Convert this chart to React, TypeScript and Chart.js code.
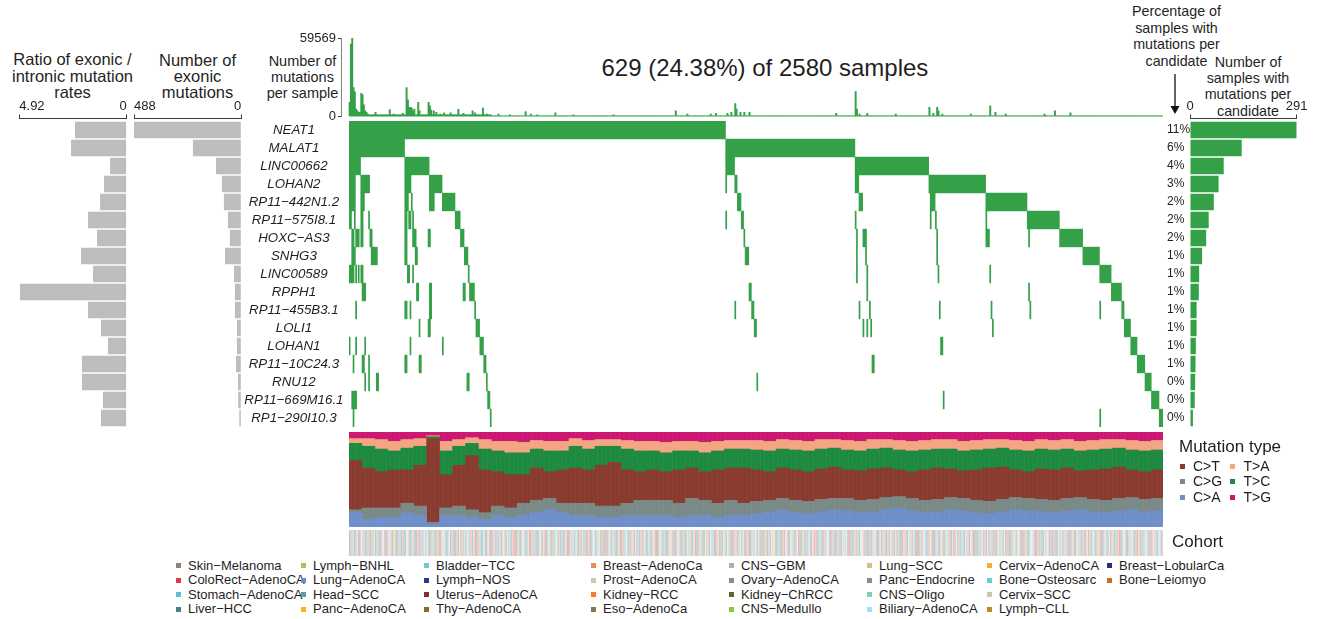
import React, { useEffect, useRef } from 'react';
import { Chart, registerables } from 'chart.js';

Chart.register(...registerables);

const FONT = '"Liberation Sans", Arial, Helvetica, sans-serif';
const TEXT = '#1f1f1f';
const GREEN = '#34a047';
const GREY = '#bdbdbd';
const AXIS = '#3a3a3a';

// ---------------- data ----------------
const sampleCount = 629;
const totalSamples = 2580;

const genes = ['NEAT1', 'MALAT1', 'LINC00662', 'LOHAN2', 'RP11\u2212442N1.2', 'RP11\u2212575I8.1', 'HOXC\u2212AS3', 'SNHG3', 'LINC00589', 'RPPH1', 'RP11\u2212455B3.1', 'LOLI1', 'LOHAN1', 'RP11\u221210C24.3', 'RNU12', 'RP11\u2212669M16.1', 'RP1\u2212290I10.3'];
const exonIntronRatio = [2.37, 2.55, 0.76, 1.04, 1.22, 1.77, 1.36, 2.09, 1.54, 4.89, 1.77, 1.18, 0.86, 2.05, 2.05, 1.09, 1.18];
const ratioAxisMax = 4.92;
const exonicMutations = [488, 220, 115, 88, 79, 61, 52, 74, 33, 29, 29, 20, 20, 24, 15, 14, 9];
const exonicAxisMax = 488;
const samplesMutated = [291, 141, 92, 78, 65, 51, 44, 33, 25, 24, 18, 18, 16, 15, 14, 13, 8];
const samplesAxisMax = 291;
const percentLabels = ['11%', '6%', '4%', '3%', '2%', '2%', '2%', '1%', '1%', '1%', '1%', '1%', '1%', '1%', '0%', '0%', '0%'];

// mutated sample runs per gene, [first, last] sample index (oncoprint order)
const neat1Runs = [[0, 290]];
const malat1Runs = [[0, 42], [291, 390]];
const linc00662Runs = [[0, 8], [43, 61], [291, 297], [391, 447]];
const lohan2Runs = [[0, 4], [9, 15], [43, 47], [62, 71], [291, 291], [298, 299], [391, 393], [448, 491]];
const rp442Runs = [[0, 4], [9, 11], [43, 45], [48, 48], [62, 65], [72, 81], [300, 302], [394, 396], [449, 452], [492, 523]];
const rp575Runs = [[0, 1], [4, 4], [9, 10], [15, 15], [43, 44], [46, 47], [49, 49], [82, 85], [291, 291], [303, 304], [391, 391], [449, 449], [453, 453], [492, 492], [524, 548]];
const hoxcRuns = [[2, 3], [5, 7], [9, 10], [16, 17], [43, 44], [49, 51], [61, 62], [86, 88], [305, 305], [392, 392], [397, 399], [454, 454], [492, 494], [525, 525], [549, 566]];
const snhg3Runs = [[2, 4], [17, 21], [43, 44], [51, 52], [89, 91], [306, 308], [392, 392], [399, 399], [454, 454], [567, 579]];
const linc00589Runs = [[0, 3], [5, 5], [7, 7], [9, 10], [45, 46], [49, 49], [92, 92], [392, 392], [400, 400], [455, 455], [495, 495], [580, 588]];
const rpph1Runs = [[10, 12], [52, 53], [62, 63], [88, 89], [93, 96], [309, 310], [400, 400], [525, 525], [589, 596]];
const rp455Runs = [[5, 5], [43, 44], [47, 47], [62, 63], [97, 97], [298, 298], [311, 312], [394, 394], [402, 402], [456, 456], [496, 496], [526, 526], [580, 580], [597, 598]];
const loli1Runs = [[54, 54], [61, 62], [98, 100], [313, 314], [397, 397], [400, 400], [403, 403], [497, 497], [599, 603]];
const lohan1Runs = [[0, 0], [5, 5], [12, 12], [47, 47], [72, 72], [101, 103], [457, 458], [604, 608]];
const rp10cRuns = [[3, 3], [10, 11], [15, 15], [43, 44], [54, 55], [104, 105], [404, 405], [609, 614]];
const rnu12Runs = [[12, 12], [15, 15], [21, 22], [91, 92], [106, 106], [315, 315], [615, 619]];
const rp669Runs = [[2, 5], [107, 108], [459, 459], [620, 625]];
const rp290Runs = [[3, 3], [109, 109], [580, 580], [626, 628]];
const mutatedRuns = [neat1Runs, malat1Runs, linc00662Runs, lohan2Runs, rp442Runs, rp575Runs, hoxcRuns, snhg3Runs, linc00589Runs, rpph1Runs, rp455Runs, loli1Runs, lohan1Runs, rp10cRuns, rnu12Runs, rp669Runs, rp290Runs];

// number of mutations per sample: notable bars [sample, count], others at the typical count of their range
const mutationCountMax = 59569;
const mutationCountPeaks = [[0, 10800], [1, 55000], [2, 59569], [3, 22100], [4, 18800], [5, 5800], [6, 4500], [7, 3300], [8, 3300], [9, 17600], [10, 16600], [11, 9000], [12, 4500], [13, 3300], [14, 2000], [20, 3300], [31, 5300], [34, 2000], [41, 2500], [44, 22100], [45, 12800], [46, 7000], [47, 7000], [48, 6500], [49, 4500], [50, 5800], [53, 10800], [54, 4500], [61, 10800], [62, 8300], [63, 5000], [65, 4500], [67, 3300], [70, 2000], [73, 3000], [78, 3000], [84, 5500], [88, 2500], [95, 4500], [97, 3000], [103, 6500], [106, 2000], [115, 2000], [124, 1500], [136, 3800], [140, 2000], [145, 1500], [159, 3000], [173, 1500], [204, 1500], [252, 4500], [261, 2000], [279, 2000], [283, 2500], [292, 2500], [295, 3300], [298, 10000], [299, 5800], [302, 3300], [305, 3300], [309, 3300], [376, 2500], [391, 19100], [392, 5800], [394, 2000], [400, 2500], [422, 2000], [448, 7000], [451, 2500], [454, 7000], [455, 4500], [458, 2000], [480, 2000], [495, 8300], [499, 3300], [507, 2000], [537, 2000], [545, 4500], [557, 3000]];
const typicalMutationCount = [[0, 109, 1500], [110, 628, 700]];

// mutation type composition, cumulative % tops per bin of 10 samples (C>A, +C>G, +C>T, +T>C, +T>A; T>G fills to 100)
const binSize = 10;
const caTop = [15, 8, 10, 10, 15, 12, 3, 12, 12, 10, 8, 12, 10, 12, 15, 18, 15, 12, 12, 10, 10, 12, 12, 12, 12, 10, 12, 12, 10, 12, 12, 14, 16, 18, 15, 14, 16, 18, 17, 15, 16, 18, 20, 17, 15, 16, 18, 17, 15, 14, 16, 18, 17, 16, 15, 17, 18, 16, 15, 17, 18, 16, 17];
const cgTop = [18, 20, 20, 20, 25, 22, 5, 20, 22, 18, 15, 22, 20, 25, 28, 30, 25, 25, 25, 22, 22, 25, 28, 28, 28, 25, 30, 28, 25, 28, 25, 27, 28, 30, 28, 27, 29, 30, 30, 28, 29, 31, 32, 30, 28, 29, 31, 30, 28, 27, 29, 31, 30, 29, 28, 30, 31, 29, 28, 30, 31, 29, 30];
const ctTop = [70, 62, 58, 60, 60, 65, 93, 55, 65, 75, 60, 58, 55, 55, 62, 58, 60, 62, 60, 65, 68, 60, 58, 60, 58, 60, 62, 58, 60, 62, 62, 60, 58, 62, 60, 58, 61, 63, 60, 59, 61, 62, 60, 58, 60, 62, 61, 59, 60, 62, 63, 60, 58, 61, 60, 62, 59, 60, 61, 63, 60, 58, 60];
const tcTop = [88, 85, 82, 80, 83, 85, 95, 80, 85, 88, 82, 80, 78, 78, 82, 80, 80, 85, 82, 85, 85, 82, 80, 80, 78, 80, 80, 78, 80, 82, 82, 81, 80, 82, 81, 80, 82, 83, 81, 80, 82, 83, 81, 80, 81, 82, 82, 80, 81, 82, 83, 81, 80, 82, 81, 82, 80, 81, 82, 83, 81, 80, 81];
const taTop = [93, 93, 92, 90, 92, 93, 96, 90, 92, 94, 92, 90, 90, 89, 91, 90, 90, 93, 91, 92, 92, 91, 90, 90, 89, 90, 90, 89, 90, 91, 91, 91, 90, 92, 91, 90, 92, 92, 91, 90, 92, 92, 91, 90, 91, 92, 92, 90, 91, 92, 92, 91, 90, 92, 91, 92, 90, 91, 92, 92, 91, 90, 91];
const mutTypes = ['C>A', 'C>G', 'C>T', 'T>C', 'T>A', 'T>G'];
const mutTypeColors = ['#6e8fca', '#7a8a87', '#8a3b2f', '#1e8a40', '#f4a582', '#cc1772'];
const mutLegendOrder = [2, 4, 1, 3, 0, 5];

// cohorts
const cohortNames = ['Skin\u2212Melanoma', 'ColoRect\u2212AdenoCA', 'Stomach\u2212AdenoCA', 'Liver\u2212HCC', 'Lymph\u2212BNHL', 'Lung\u2212AdenoCA', 'Head\u2212SCC', 'Panc\u2212AdenoCA', 'Bladder\u2212TCC', 'Lymph\u2212NOS', 'Uterus\u2212AdenoCA', 'Thy\u2212AdenoCA', 'Breast\u2212AdenoCa', 'Prost\u2212AdenoCA', 'Kidney\u2212RCC', 'Eso\u2212AdenoCa', 'CNS\u2212GBM', 'Ovary\u2212AdenoCA', 'Kidney\u2212ChRCC', 'CNS\u2212Medullo', 'Lung\u2212SCC', 'Panc\u2212Endocrine', 'CNS\u2212Oligo', 'Biliary\u2212AdenoCA', 'Cervix\u2212AdenoCA', 'Bone\u2212Osteosarc', 'Cervix\u2212SCC', 'Lymph\u2212CLL', 'Breast\u2212LobularCa', 'Bone\u2212Leiomyo'];
const cohortColors = ['#8c8279', '#e8383d', '#5bc0d0', '#4a7f86', '#c0b65a', '#6e8fcf', '#5b9e9a', '#f7b51c', '#6ccbd9', '#2a3a8f', '#8b2a2a', '#8a6a2a', '#f08a5d', '#d4c4b0', '#f08030', '#8b7355', '#b0b0b0', '#958b7a', '#556b2f', '#8dc63f', '#ddb88a', '#8a8a8a', '#7fcfb0', '#a8dcef', '#f0b030', '#6ccbd9', '#ccc8aa', '#b88a2a', '#2a2a80', '#d06a2a'];
const cohortCodes = 'abcdefghijklmnopqrstuvwxyzABCD';
const cohortBySample = [
  'damcdrnbdxmqdacrdmpndcvadmxrdbnqcdhmdarcdmpdxnadcm',
  'rdbqdmacndxpdrmcdaebdmnqcdrxdmapdcbndmrqdxcamdnbdr',
  'mcdaxdpnrdbmqdcaudmxrdnacdmbpdqrdmxcadnbdmrcpdaxmd',
  'nbdcqmdrawxdmpcdanbdrmcqdxadmpndcbrmdaqxdcmndrpabd',
  'mxdcqrdanbdmpcxdramqdnbcdmarxdpqcdmnabdrxmdcapdqnm',
  'drbcxmdaqpdnmcrdxbadmqcpdnrmdxacdbmqdrpncdxmadrbqm',
  'dcnpxadmrbdqcmxdnaprdmcbqdxmnadrcpdmbxqdancmdrxbpd',
  'qmdcanrdxbmpdqcdamrnxdbcmdpqardxmcndbradqmpcdxnmrd',
  'abcdqmxrdpndmcabqdxrmdnpcadbqmrdxcmandpbdqrmxcdamn',
  'pdbcqrdxmadncmpdqbrxdmaccdnrqbxmdpadcrmndqbxdmcapr',
  'dnmcqdxbrapdmcndqxrbadmcpdnxqrbdmacdpnrxqdmbcadrnp',
  'xdmcqbdarnpdxmcrdqbandmpcxdrqmabdcnrdxpmqdcambdrxn',
  'pdmcqxdarbndmpcqxdrabnmcdqxar',
].join('');
const cohortAlpha = 0.38;

// ---------------- derived ----------------
const oncoData: any[] = [];
mutatedRuns.forEach((runs, g) => runs.forEach(([s, e]) => oncoData.push({ y: genes[g], x: [s, e + 1] })));

const peakMap = new Map(mutationCountPeaks.map(([i, v]) => [i, v]));
const mutationsPerSample = Array.from({ length: sampleCount }, (_, i) => {
  if (peakMap.has(i)) return peakMap.get(i);
  const r = typicalMutationCount.find(([a, b]) => i >= a && i <= b);
  return r ? r[2] : 0;
});

const tops = [caTop, cgTop, ctTop, tcTop, taTop];
const typeShares = mutTypes.map((_, k) =>
  Array.from({ length: sampleCount }, (_, i) => {
    const b = Math.floor(i / binSize);
    const hi = k < 5 ? tops[k][b] : 100;
    const lo = k > 0 ? tops[k - 1][b] : 0;
    return hi - lo;
  })
);

function hexA(hex: string, a: number) {
  const n = parseInt(hex.slice(1), 16);
  return `rgba(${(n >> 16) & 255},${(n >> 8) & 255},${n & 255},${a})`;
}
const cohortSampleColors = Array.from(cohortBySample).map((c) => hexA(cohortColors[Math.max(0, cohortCodes.indexOf(c))], cohortAlpha));

// ---------------- chart helpers ----------------
const ROW_MIN = -0.639;
const ROW_MAX = 16.5;

const zeroPad = (s: any) => { s.paddingTop = 0; s.paddingBottom = 0; s.paddingLeft = 0; s.paddingRight = 0; };

const base = (extra: any) => ({
  responsive: false,
  maintainAspectRatio: false,
  animation: false,
  devicePixelRatio: 1,
  events: [],
  plugins: { legend: { display: false }, tooltip: { enabled: false }, title: { display: false } },
  ...extra,
  layout: { autoPadding: false, ...(extra.layout || {}) },
});

const hiddenLinear = (min: number, max: number, extra: any = {}) => ({
  type: 'linear', min, max, offset: false, display: false, afterFit: zeroPad, ...extra,
});

function topAxis(max: number, align: string, label: (v: number) => string) {
  return {
    type: 'linear',
    position: 'top',
    min: 0,
    max,
    offset: false,
    afterBuildTicks: (s: any) => { s.ticks = [{ value: 0 }, { value: max }]; },
    ticks: { align, padding: 0, color: TEXT, font: { family: FONT, size: 13 }, callback: (v: number) => label(v), maxRotation: 0, autoSkip: false },
    grid: { drawOnChartArea: false, tickLength: 4, color: AXIS, lineWidth: 1 },
    border: { color: AXIS, width: 1 },
    afterFit: (s: any) => { s.height = 23.5; zeroPad(s); },
  };
}

function hBarConfig(values: number[], max: number, color: string, reverse: boolean, padLeft: number, padRight: number, align: string, withPct: boolean) {
  const x: any = topAxis(max, align, (v) => String(v));
  x.reverse = reverse;
  const y: any = withPct
    ? {
        type: 'linear', reverse: true, min: ROW_MIN, max: ROW_MAX, offset: false,
        afterBuildTicks: (s: any) => { s.ticks = genes.map((_, i) => ({ value: i })); },
        ticks: { autoSkip: false, crossAlign: 'far', padding: 0, color: TEXT, font: { family: FONT, size: 12 }, callback: (v: number) => percentLabels[v] },
        grid: { display: false, drawTicks: false },
        border: { display: false },
        afterFit: (s: any) => { s.width = 23; zeroPad(s); },
      }
    : hiddenLinear(ROW_MIN, ROW_MAX, { reverse: true });
  return {
    type: 'bar',
    data: { datasets: [{ data: values.map((v, i) => ({ x: v, y: i })), backgroundColor: color, borderWidth: 0, barPercentage: 0.93, categoryPercentage: 1 }] },
    options: base({ indexAxis: 'y', layout: { padding: { left: padLeft, right: padRight, top: 0, bottom: 8 } }, scales: { x, y } }),
  };
}

function ChartBox({ left, top, width, height, config }: any) {
  const ref = useRef<HTMLCanvasElement>(null);
  useEffect(() => {
    const chart = new Chart(ref.current as HTMLCanvasElement, config);
    return () => chart.destroy();
  }, []);
  return <canvas ref={ref} width={width} height={height} style={{ position: 'absolute', left, top, width, height }} />;
}

function Label({ x, y, size, align = 'left', lh, children, italic = false }: any) {
  const lineH = lh ?? size * 1.2;
  const style: any = { position: 'absolute', top: y - lineH / 2, fontFamily: FONT, fontSize: size, lineHeight: lineH + 'px', whiteSpace: 'nowrap', color: TEXT, fontStyle: italic ? 'italic' : 'normal' };
  if (align === 'left') style.left = x;
  else if (align === 'center') { style.left = x - 200; style.width = 400; style.textAlign = 'center'; }
  else { style.right = 1320 - x; style.textAlign = 'right'; }
  return <div style={style}>{children}</div>;
}

function Swatch({ x, y, size, color }: any) {
  return <div style={{ position: 'absolute', left: x, top: y - size / 2, width: size, height: size, background: color }} />;
}

// ---------------- configs ----------------
const ratioConfig = hBarConfig(exonIntronRatio, ratioAxisMax, GREY, true, 19.3, 13.3, 'inner', false);
const exonicConfig = hBarConfig(exonicMutations, exonicAxisMax, GREY, true, 4, 8.7, 'inner', false);
const samplesConfig = hBarConfig(samplesMutated, samplesAxisMax, GREEN, false, 7, 23.3, 'center', true);

const oncoConfig = {
  type: 'bar',
  data: { labels: genes, datasets: [{ data: oncoData, backgroundColor: GREEN, borderWidth: 0, barPercentage: 1, categoryPercentage: 1, inflateAmount: 0.2 }] },
  options: base({
    indexAxis: 'y',
    layout: { padding: { left: 0, right: 2, top: 0, bottom: 0 } },
    scales: {
      x: hiddenLinear(0, sampleCount),
      y: {
        type: 'category', offset: true,
        grid: { display: false, drawTicks: false }, border: { display: false },
        ticks: { autoSkip: false, crossAlign: 'center', padding: 5.5, color: TEXT, font: { family: FONT, size: 13.3, style: 'italic' } },
        afterFit: (s: any) => { s.width = 109; zeroPad(s); },
      },
    },
  }),
};

const countAxisMinSample = -6.18;
const countConfig = {
  type: 'bar',
  data: { datasets: [{ data: mutationsPerSample.map((v, i) => ({ x: i + 0.5, y: v })), backgroundColor: GREEN, borderWidth: 0, barPercentage: 1, categoryPercentage: 1 }] },
  options: base({
    layout: { padding: { left: 0, right: 2, top: 10, bottom: 11.3 } },
    scales: {
      x: hiddenLinear(countAxisMinSample, sampleCount),
      y: {
        type: 'linear', min: 0, max: mutationCountMax, offset: false,
        afterBuildTicks: (s: any) => { s.ticks = [{ value: 0 }, { value: mutationCountMax }]; },
        ticks: { padding: 2, color: TEXT, font: { family: FONT, size: 13 }, callback: (v: number) => String(v) },
        grid: { drawOnChartArea: false, tickLength: 3, color: AXIS },
        border: { color: '#808080', width: 1 },
        afterFit: (s: any) => { s.width = 51; zeroPad(s); },
      },
    },
  }),
};

const typeConfig = {
  type: 'bar',
  data: {
    datasets: mutTypes.map((t, k) => ({
      label: t,
      data: typeShares[k].map((v, i) => ({ x: i + 0.5, y: v })),
      backgroundColor: mutTypeColors[k], borderWidth: 0, barPercentage: 1, categoryPercentage: 1, inflateAmount: 0.3,
    })),
  },
  options: base({
    scales: {
      x: hiddenLinear(0, sampleCount, { stacked: true }),
      y: hiddenLinear(0, 100, { stacked: true }),
    },
  }),
};

const cohortConfig = {
  type: 'bar',
  data: { datasets: [{ data: cohortSampleColors.map((_, i) => ({ x: i + 0.5, y: 1 })), backgroundColor: cohortSampleColors, borderWidth: 0, barPercentage: 1, categoryPercentage: 1, inflateAmount: 0 }] },
  options: base({
    scales: {
      x: hiddenLinear(0, sampleCount),
      y: hiddenLinear(0, 1),
    },
  }),
};

// ---------------- layout ----------------
const legendColX = [176, 301, 424, 591, 729, 867, 987, 1107];
const legendRowY = [565.5, 580, 594.5, 609];

export default function App() {
  const pct = ((sampleCount / totalSamples) * 100).toFixed(2);
  return (
    <div style={{ position: 'absolute', left: 0, top: 0, width: 1320, height: 619, background: '#fff', overflow: 'hidden' }}>
      <Label x={72.5} y={59.5} size={16.5} lh={16.3} align="center">Ratio of exonic /<br />intronic mutation<br />rates</Label>
      <Label x={197.5} y={60} size={16.5} lh={16.3} align="center">Number of<br />exonic<br />mutations</Label>
      <Label x={302.5} y={61} size={14.5} lh={16.2} align="center">Number of<br />mutations<br />per sample</Label>
      <Label x={601.5} y={68.5} size={24}>{`${sampleCount} (${pct}%) of ${totalSamples} samples`}</Label>
      <Label x={1176.5} y={11.5} size={14.3} lh={16.5} align="center">Percentage of<br />samples with<br />mutations per<br />candidate</Label>
      <Label x={1248} y={62} size={14.3} lh={16.2} align="center">Number of<br />samples with<br />mutations per<br />candidate</Label>
      <svg width={1320} height={619} style={{ position: 'absolute', left: 0, top: 0 }}>
        <line x1={1175} y1={74} x2={1175} y2={107} stroke="#111" strokeWidth={1.3} />
        <polygon points="1170.5,106 1179.5,106 1175,114" fill="#111" />
      </svg>

      <ChartBox left={0} top={95} width={140} height={340} config={ratioConfig} />
      <ChartBox left={130} top={95} width={120} height={340} config={exonicConfig} />
      <ChartBox left={290} top={28} width={875} height={100} config={countConfig} />
      <ChartBox left={240} top={121} width={925} height={306} config={oncoConfig} />
      <ChartBox left={1160} top={95} width={160} height={340} config={samplesConfig} />
      <ChartBox left={349} top={432} width={814} height={95} config={typeConfig} />
      <ChartBox left={349} top={530} width={814} height={26} config={cohortConfig} />

      <Label x={1179} y={447.5} size={17}>Mutation type</Label>
      {mutLegendOrder.map((k, j) => {
        const col = j % 2;
        const row = Math.floor(j / 2);
        const y = [466.3, 481.5, 497][row];
        const sx = col === 0 ? 1179.5 : 1230;
        return (
          <React.Fragment key={k}>
            <Swatch x={sx} y={y} size={5} color={mutTypeColors[k]} />
            <Label x={sx + 13.5} y={y} size={14}>{mutTypes[k]}</Label>
          </React.Fragment>
        );
      })}
      <Label x={1172} y={542.3} size={17}>Cohort</Label>

      {cohortNames.map((name, i) => {
        const col = Math.floor(i / 4);
        const row = i % 4;
        return (
          <React.Fragment key={name}>
            <Swatch x={legendColX[col]} y={legendRowY[row]} size={5} color={cohortColors[i]} />
            <Label x={legendColX[col] + 12} y={legendRowY[row]} size={13}>{name}</Label>
          </React.Fragment>
        );
      })}
    </div>
  );
}
